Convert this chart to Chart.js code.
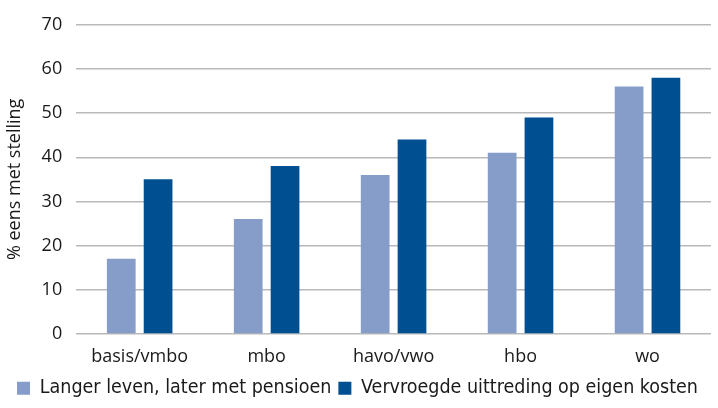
<!DOCTYPE html>
<html>
<head>
<meta charset="utf-8">
<script src="https://cdn.jsdelivr.net/npm/chart.js@4"></script>
<style>
  html, body { margin: 0; padding: 0; background: #fff; }
  #wrap { width: 718px; height: 408px; }
</style>
</head>
<body>
<div id="wrap"><canvas id="chart" width="718" height="408"></canvas></div>
<script>
const categories = ["basis/vmbo", "mbo", "havo/vwo", "hbo", "wo"];
const langerLeven = [17, 26, 36, 41, 56];
const vervroegd = [35, 38, 44, 49, 58];
const seriesNames = ["Langer leven, later met pensioen", "Vervroegde uittreding op eigen kosten"];

const COLORS = {
  LIGHT: "#859dc8",
  DARK: "#004f91",
  GRID: "#b9b9b9",
  TEXT: "#1a1a1a",
};

new Chart(document.getElementById("chart"), {
  type: "bar",
  data: {
    labels: categories,
    datasets: [
      { label: seriesNames[0], data: langerLeven, backgroundColor: COLORS.LIGHT },
      { label: seriesNames[1], data: vervroegd, backgroundColor: COLORS.DARK },
    ],
  },
  options: {
    responsive: false,
    animation: false,
    layout: { padding: { left: 4, right: 7, top: -4, bottom: 0 } },
    datasets: {
      bar: { barPercentage: 0.78, categoryPercentage: 0.58 },
    },
    scales: {
      x: {
        grid: { display: false },
        border: { display: false },
        ticks: {
          color: COLORS.TEXT,
          font: { family: "Open Sans", size: 18 },
          padding: 4,
        },
      },
      y: {
        min: 0,
        max: 70,
        border: { display: false },
        grid: { color: COLORS.GRID, lineWidth: 1.5, drawTicks: false },
        ticks: {
          stepSize: 10,
          color: COLORS.TEXT,
          font: { family: "Open Sans", size: 18 },
          padding: 14,
        },
        title: {
          display: true,
          text: "% eens met stelling",
          color: COLORS.TEXT,
          font: { family: "Open Sans", size: 18 },
          padding: { top: 0, bottom: 2 },
        },
      },
    },
    plugins: {
      tooltip: { enabled: false },
      legend: {
        position: "bottom",
        labels: {
          boxWidth: 13,
          boxHeight: 13,
          padding: 7,
          color: COLORS.TEXT,
          font: { family: "'DejaVu Sans Condensed', 'DejaVu Sans'", size: 19.5 },
        },
      },
    },
  },
});
</script>
</body>
</html>
